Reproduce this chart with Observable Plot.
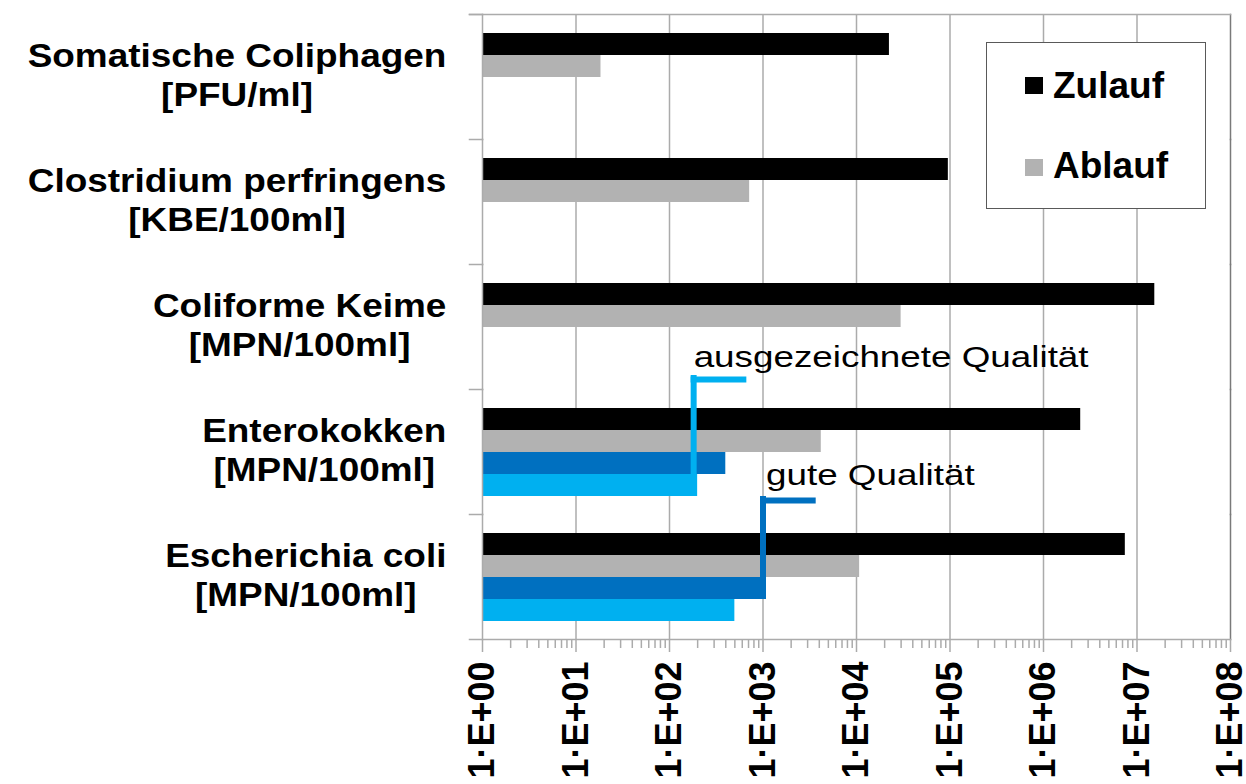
<!DOCTYPE html>
<html>
<head>
<meta charset="utf-8">
<script src="https://cdn.jsdelivr.net/npm/d3@7"></script>
<script src="https://cdn.jsdelivr.net/npm/@observablehq/plot@0.6"></script>
<style>
  html, body { margin: 0; padding: 0; background: #fff; }
  #wrap { position: relative; width: 1246px; height: 784px; overflow: hidden; font-family: "Liberation Sans", Arial, sans-serif; }
  #wrap svg { display: block; }
  #legend { position: absolute; left: 986px; top: 42px; width: 220px; height: 167px; box-sizing: border-box; border: 1.5px solid #595959; background: #fff; }
  #legend .sw { position: absolute; left: 38px; width: 18px; height: 17px; }
  #legend .lt { position: absolute; left: 66px; font-size: 37px; line-height: 37px; font-weight: bold; color: #000; white-space: nowrap; }
</style>
</head>
<body>
<div id="wrap"><div id="legend"></div></div>
<script>
// ---------- data ----------
const categories = ["Somatische Coliphagen", "Clostridium perfringens", "Coliforme Keime", "Enterokokken", "Escherichia coli"];
const units = ["[PFU/ml]", "[KBE/100ml]", "[MPN/100ml]", "[MPN/100ml]", "[MPN/100ml]"];
const series = ["Zulauf", "Ablauf", "gute Qualität", "ausgezeichnete Qualität"];
const zulauf = [22500, 96000, 15500000, 2500000, 7500000];
const ablauf = [18.5, 720, 30000, 4200, 10800];
const guteQualitaet = [null, null, null, 400, 1000];
const ausgezeichneteQualitaet = [null, null, null, 200, 500];
const colors = ["#000000", "#b2b2b2", "#0070c0", "#00b0f0"];
const xTicks = [1, 10, 100, 1000, 10000, 100000, 1000000, 10000000, 100000000];
const xTickLabels = ["1·E+00", "1·E+01", "1·E+02", "1·E+03", "1·E+04", "1·E+05", "1·E+06", "1·E+07", "1·E+08"];
const annotationCategories = ["Enterokokken", "Escherichia coli"];
const annotationTexts = ["ausgezeichnete Qualität", "gute Qualität"];
const annotationValues = [200, 1000];
const annotationSeries = ["ausgezeichnete Qualität", "gute Qualität"];
const legendSeries = ["Zulauf", "Ablauf"];

// ---------- build tables ----------
const seriesValues = [zulauf, ablauf, guteQualitaet, ausgezeichneteQualitaet];
const rows = categories.flatMap((c, i) =>
  series.map((s, k) => ({cat: c, series: s, value: seriesValues[k][i]}))
).filter(d => d.value != null);
const minorTicks = xTicks.slice(0, -1).flatMap(t => d3.range(2, 10).map(m => m * t));
const gridTicks = xTicks.slice(1, -1);
const annotations = annotationCategories.map((c, i) => ({cat: c, text: annotationTexts[i], value: annotationValues[i], series: annotationSeries[i]}));

// ---------- layout / style ----------
const W = 1246, H = 784, mL = 482, mR = 16, mT = 12, mB = 144;
const gridColor = "#ababab";
const labelFont = 33, labelStretch = 1.12, labelRight = 446;
const annFont = 29, annStretch = 1.27;
const ctx = document.createElement("canvas").getContext("2d");
ctx.font = `bold ${labelFont}px "Liberation Sans"`;
const labelWidth = categories.map((c, i) => Math.max(ctx.measureText(c).width, ctx.measureText(units[i]).width) * labelStretch);

const labelMarks = categories.map((c, i) =>
  Plot.text([c], {
    fy: d => d, frameAnchor: "left",
    text: () => c + "\n" + units[i],
    textAnchor: "middle", lineAnchor: "middle", lineHeight: 39 / labelFont,
    dx: (labelRight - mL) - labelWidth[i] / 2, dy: -3,
    fontSize: labelFont, fontWeight: "bold", fill: "black"
  })
);

const annStyles = [
  {insetTop: -99, dxRule: -4, dyLink: -40, dyText: -53, dxText: -4, color: colors[3]},
  {insetTop: -81, dxRule: 0, dyLink: -44, dyText: -60, dxText: 3, color: colors[2]}
];
const annMarks = annotations.flatMap((a, i) => {
  const st = annStyles[i];
  return [
    Plot.ruleX([a], {fy: "cat", x: "value", y1: "series", y2: "series", insetTop: st.insetTop, dx: st.dxRule, stroke: st.color, strokeWidth: 6}),
    Plot.link([a], {fy: "cat", x1: "value", x2: d => d.value * 3.4, y1: () => "Zulauf", y2: () => "Zulauf", dy: st.dyLink, dx: st.dxRule, stroke: st.color, strokeWidth: 6, strokeLinecap: "square"}),
    Plot.text([a], {fy: "cat", x: "value", y: () => "Zulauf", text: "text", textAnchor: "start", lineAnchor: "bottom", dy: st.dyText, dx: st.dxText, fontSize: annFont, fill: "black"})
  ];
});

const chart = Plot.plot({
  width: W, height: H,
  marginLeft: mL, marginRight: mR, marginTop: mT, marginBottom: mB,
  style: {fontFamily: "'Liberation Sans', Arial, sans-serif", background: "white", overflow: "visible"},
  x: {type: "log", domain: [xTicks[0], xTicks[xTicks.length - 1]]},
  y: {domain: series, paddingInner: 0, paddingOuter: 0.78, axis: null},
  fy: {domain: categories, padding: 0, axis: null},
  color: {domain: series, range: colors},
  marks: [
    Plot.ruleX(gridTicks, {stroke: gridColor, strokeWidth: 1.5}),
    Plot.barX(rows, {fy: "cat", y: "series", x1: 1, x2: "value", fill: "series"}),
    Plot.frame({anchor: "left", stroke: gridColor, strokeWidth: 1.5}),
    Plot.frame({anchor: "right", stroke: "#7a7a7a", strokeWidth: 1.5}),
    Plot.frame({anchor: "top", insetLeft: -13, insetRight: W - mL - mR, stroke: gridColor, strokeWidth: 1.5}),
    Plot.frame({anchor: "top", facet: "super", insetLeft: -13, stroke: gridColor, strokeWidth: 1.5}),
    Plot.frame({anchor: "bottom", facet: "super", insetLeft: -13, stroke: gridColor, strokeWidth: 1.5}),
    Plot.axisX({ticks: minorTicks, tickSize: 9, stroke: gridColor, strokeWidth: 1.5, fill: "none", label: null}),
    Plot.axisX({ticks: xTicks, tickSize: 13, tickPadding: 9, tickRotate: -90, textAnchor: "end",
      tickFormat: d => xTickLabels[xTicks.indexOf(d)], fontSize: 36, fontWeight: "bold",
      stroke: gridColor, strokeWidth: 1.5, fill: "black", label: null}),
    ...annMarks,
    ...labelMarks
  ]
});

// horizontal stretch of the wide-set label fonts, as in the reference
function stretchTexts(svg, contents, s) {
  svg.querySelectorAll("text").forEach(t => {
    if (!contents.includes(t.textContent)) return;
    const tr = t.getAttribute("transform") || "";
    const xa = t.getAttribute("x");
    const x = xa && !/em$/.test(xa) ? parseFloat(xa) : 0;
    t.setAttribute("transform", `${tr} translate(${x},0) scale(${s},1) translate(${-x},0)`);
  });
}
stretchTexts(chart, categories.map((c, i) => c + units[i]), labelStretch);
stretchTexts(chart, annotationTexts, annStretch);

const wrap = document.getElementById("wrap");
wrap.insertBefore(chart, wrap.firstChild);

// legend
const legend = document.getElementById("legend");
const legendTops = [{sw: 34, tx: 24}, {sw: 116, tx: 104}];
legendSeries.forEach((s, i) => {
  const sw = document.createElement("div");
  sw.className = "sw";
  sw.style.top = legendTops[i].sw + "px";
  sw.style.background = colors[series.indexOf(s)];
  legend.appendChild(sw);
  const tx = document.createElement("div");
  tx.className = "lt";
  tx.style.top = legendTops[i].tx + "px";
  tx.textContent = s;
  legend.appendChild(tx);
});
</script>
</body>
</html>
